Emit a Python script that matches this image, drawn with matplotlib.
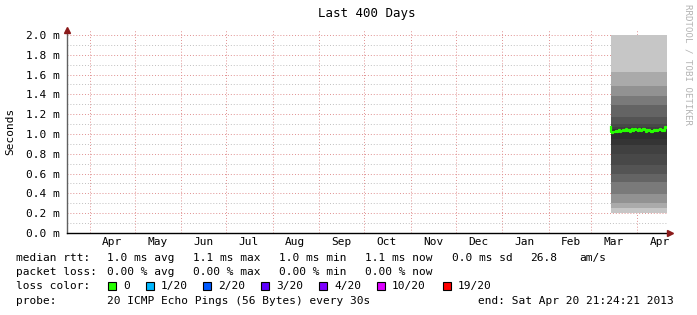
"""
Smokeping style chart: last 400 days of median rtt with smoke
"""
from datetime import datetime as dt
import matplotlib
matplotlib.use('Agg')
import matplotlib.pyplot as plt
import matplotlib.dates as mdates
from matplotlib.patches import Rectangle
import pandas

W, H = 697, 315

end_time = dt(2013, 4, 20, 21, 24, 21)
start_time = end_time - pandas.Timedelta(days=400)
smoke_start = dt(2013, 3, 14, 6, 0)

# median rtt (ms), sampled across the data interval
median_ms = [1.07, 1.02, 1.01, 1.02, 1.02, 1.03, 1.02, 1.03, 1.04, 1.02,
             1.03, 1.04, 1.03, 1.03, 1.05, 1.03, 1.04, 1.02, 1.04, 1.05,
             1.03, 1.04, 1.05, 1.04, 1.03, 1.05, 1.04, 1.03, 1.04, 1.05,
             1.04, 1.02, 1.04, 1.03, 1.04, 1.03, 1.02, 1.03, 1.04, 1.03,
             1.04, 1.03, 1.04, 1.05, 1.04, 1.03, 1.04, 1.03, 1.07, 1.06]

# smoke bands (ms), outermost pair first
smoke_upper = [2.00, 1.63, 1.48, 1.38, 1.29, 1.17, 1.10, 1.07, 1.05, 1.04]
smoke_lower = [0.20, 0.25, 0.30, 0.39, 0.52, 0.60, 0.69, 0.80, 0.89, 0.95]
smoke_colors = ['#c6c6c6', '#aaaaaa', '#929292', '#7a7a7a', '#646464',
                '#545454', '#484848', '#404040', '#343434', '#2e2e2e']

loss_labels = ['0', '1/20', '2/20', '3/20', '4/20', '10/20', '19/20']
loss_colors = ['#26ff00', '#00b8ff', '#0059ff', '#5e00ff', '#7e00ff', '#dd00ff', '#ff0000']

MONO = 'DejaVu Sans Mono'
plt.rcParams['font.family'] = MONO

fig = plt.figure(figsize=(W / 100, H / 100), dpi=100)
ax = fig.add_axes([67 / W, 82 / H, 600 / W, 203 / H])

t = pandas.date_range(smoke_start, end_time, periods=len(median_ms))
for up, lo, c in zip(smoke_upper, smoke_lower, smoke_colors):
    ax.fill_between([smoke_start, end_time], [lo, lo], [up, up], color=c, lw=0, zorder=2)
ax.step(t, median_ms, where='mid', color=loss_colors[0], lw=1.6, zorder=4)

ax.set_xlim(start_time, end_time)
ax.set_ylim(0, 2.05)

ax.set_yticks([i * 0.2 for i in range(11)])
ax.set_yticks([i * 0.2 + 0.1 for i in range(10)], minor=True)
ax.yaxis.set_major_formatter(plt.FuncFormatter(lambda v, p: f'{v:.1f} m'))
ax.xaxis.set_major_locator(mdates.MonthLocator())
ax.xaxis.set_major_formatter(plt.NullFormatter())
ax.xaxis.set_minor_locator(mdates.MonthLocator(bymonthday=16))
ax.xaxis.set_minor_formatter(mdates.DateFormatter('%b'))
ax.tick_params(which='both', length=0, labelsize=8, colors='black')
ax.tick_params(axis='y', pad=5)
ax.tick_params(axis='x', which='minor', pad=3)

dot = (0, (1, 2))
ax.grid(True, which='major', axis='both', color='#e09090', lw=0.7, linestyle=dot, zorder=1)
ax.grid(True, which='minor', axis='y', color='#c0c0c0', lw=0.7, linestyle=dot, zorder=1)
for gl in ax.get_xgridlines() + ax.get_ygridlines():
    gl.set_zorder(3)

for s in ['top', 'right']:
    ax.spines[s].set_visible(False)
ax.spines['left'].set_color('#606060')
ax.spines['bottom'].set_color('black')
for s in ['left', 'bottom']:
    ax.spines[s].set_linewidth(1.0)
    ax.spines[s].set_zorder(5)
ax.plot([0], [1.0], marker='^', ms=4, color='#8b1a1a', transform=ax.transAxes, clip_on=False, zorder=6)
ax.plot([1.005], [0], marker='>', ms=4, color='#8b1a1a', transform=ax.transAxes, clip_on=False, zorder=6)

ax.set_ylabel('Seconds', fontsize=8, labelpad=8)
fig.text(367 / W, 1 - 14 / H, 'Last 400 Days', ha='center', va='center', fontsize=9)
fig.text(688 / W, 1 - 4 / H, 'RRDTOOL / TOBI OETIKER', rotation=270, ha='center', va='top',
         fontsize=6.6, color='#b4b4b4')


def put(x, y, s):
    fig.text(x / W, 1 - y / H, s, ha='left', va='center', fontsize=8)


put(16, 258, 'median rtt:')
for x, s in zip([107, 193, 279, 365, 452],
                ['1.0 ms avg', '1.1 ms max', '1.0 ms min', '1.1 ms now', '0.0 ms sd']):
    put(x, 258, s)
put(530, 258, '26.8')
put(579, 258, 'am/s')

put(16, 272, 'packet loss:')
for x, s in zip([107, 193, 279, 365],
                ['0.00 % avg', '0.00 % max', '0.00 % min', '0.00 % now']):
    put(x, 272, s)

put(16, 286, 'loss color:')
box_x = [108, 146, 203, 261, 319, 377, 443]
for bx, lab, col in zip(box_x, loss_labels, loss_colors):
    fig.patches.append(Rectangle((bx / W, 1 - 290 / H), 8 / W, 8 / H, transform=fig.transFigure,
                                 facecolor=col, edgecolor='black', lw=0.8))
    put(bx + 15, 286, lab)

put(16, 301, 'probe:')
put(107, 301, '20 ICMP Echo Pings (56 Bytes) every 30s')
put(478, 301, 'end: Sat Apr 20 21:24:21 2013')

fig.savefig('out.png', dpi=100, facecolor='white')
